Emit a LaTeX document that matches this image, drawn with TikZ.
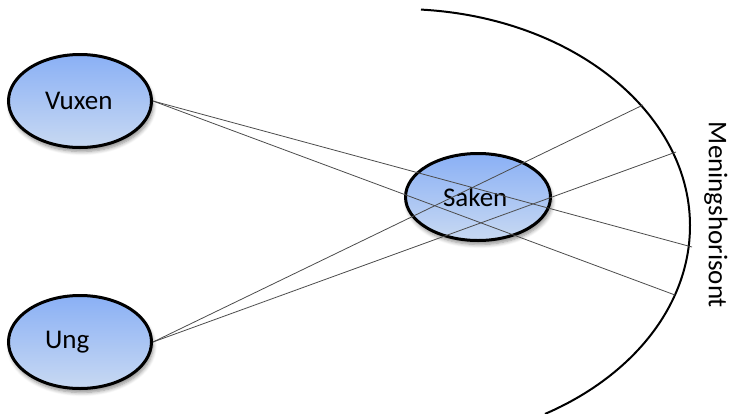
\documentclass[tikz,border=0pt]{standalone}
\usepackage{fontspec}
\setmainfont{Carlito}
\usetikzlibrary{positioning}
\usetikzlibrary{shapes.geometric}
\usetikzlibrary{shadows.blur}
\definecolor{bubbletop}{RGB}{138,176,245}
\definecolor{bubblebot}{RGB}{200,217,242}
\tikzset{bubble/.style={ellipse,draw,line width=1.5pt,top color=bubbletop,bottom color=bubblebot,
  minimum width=71.5pt,minimum height=46.5pt,inner sep=0pt,text width=35pt,align=left,
  font=\fontsize{13.5}{16}\selectfont,
  blur shadow={shadow xshift=0.8pt,shadow yshift=-2pt,shadow blur steps=6,shadow opacity=45}}}
\tikzset{sight/.style={line width=0.4pt,black!70}}
\tikzset{horizon/.style={line width=1pt}}

\begin{document}
\begin{tikzpicture}[x=0.5pt,y=-0.5pt]
\useasboundingbox (0,0) rectangle (733,413);

\node[bubble] (vuxen) at (80,101) {Vuxen};
\node[bubble] (ung) at (80,342) {Ung};
\node[bubble,minimum width=72.5pt,minimum height=43.5pt] (saken) at (478,197) {Saken};

% horisonten runt saken
\coordinate (ctr) at (400,226);
\draw[horizon] (ctr) ++(85.85:145pt and 108.5pt)
  arc[start angle=85.85,end angle=-60,x radius=145pt,y radius=108.5pt];

\coordinate (h1) at (643,105);
\coordinate (h2) at (676,152);
\coordinate (h3) at (692,247);
\coordinate (h4) at (675,295);

\draw[sight] (ung.east) -- (h1);
\draw[sight] (ung.east) -- (h2);
\draw[sight] (vuxen.east) -- (h3);
\draw[sight] (vuxen.east) -- (h4);

\node[rotate=-90,font=\fontsize{13.5}{16}\selectfont] (mh) at (716,215) {Meningshorisont};
\end{tikzpicture}
\end{document}
